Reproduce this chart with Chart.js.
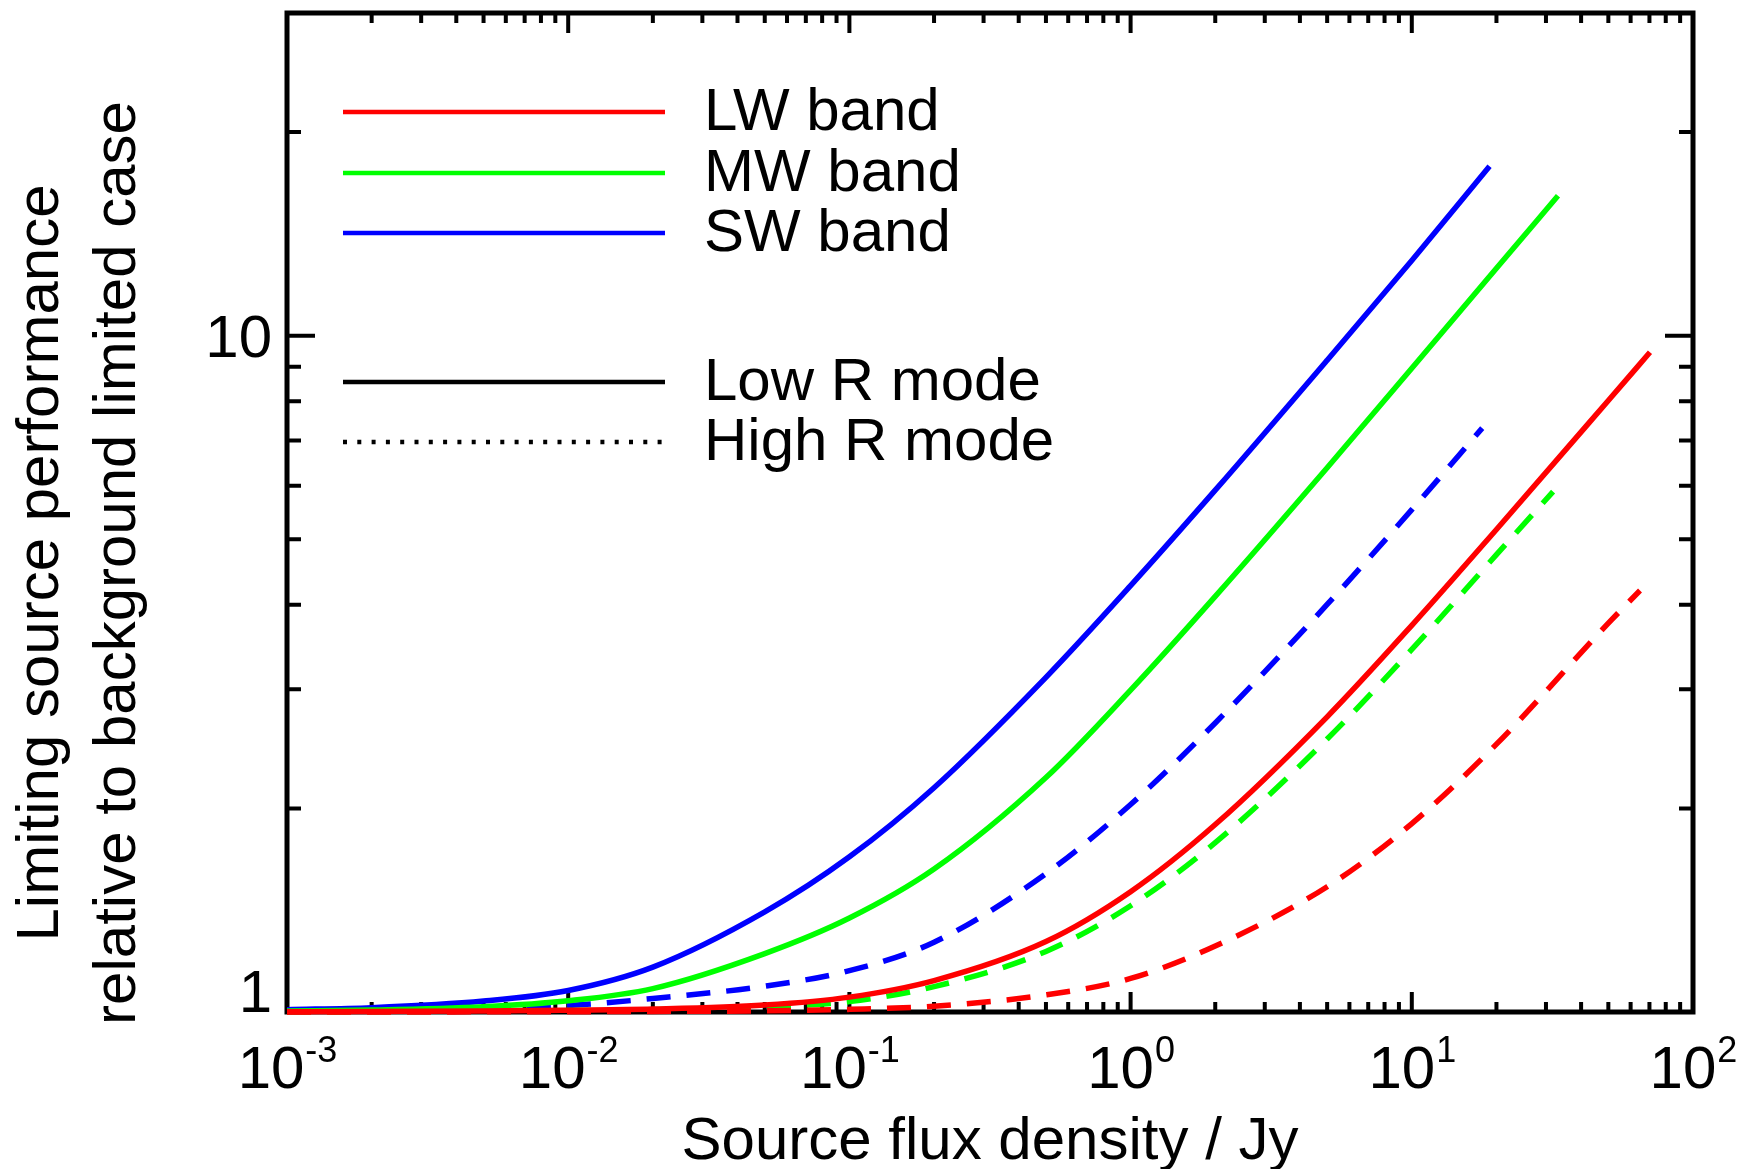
<!DOCTYPE html>
<html>
<head>
<meta charset="utf-8">
<title>Limiting source performance</title>
<script src="https://cdn.jsdelivr.net/npm/chart.js@4.4.1/dist/chart.umd.min.js"></script>
<style>
  html, body { margin: 0; padding: 0; background: #fff; }
  canvas { display: block; }
</style>
</head>
<body>
<canvas id="perfChart" width="1747" height="1169"></canvas>
<script>
const fluxCommon = [0.001, 0.002, 0.005, 0.01, 0.02, 0.05, 0.1, 0.2, 0.5, 1, 2, 5, 10];
const fluxLwLow = fluxCommon.concat([20, 50, 70.3]);
const fluxMwLow = fluxCommon.concat([20, 33.1]);
const fluxSwLow = fluxCommon.concat([18.9]);
const fluxLwHigh = fluxCommon.concat([20, 50, 64.8]);
const fluxMwHigh = fluxCommon.concat([20, 31.8]);
const fluxSwHigh = fluxCommon.concat([17.8]);

// performance relative to background limited case
const lwLow = [1.001, 1.002, 1.003, 1.006, 1.010, 1.024, 1.052, 1.113, 1.271, 1.506, 1.893, 2.732, 3.73, 5.17, 8.02, 9.45];
const mwLow = [1.003, 1.0065, 1.018, 1.039, 1.083, 1.220, 1.377, 1.627, 2.222, 2.992, 4.117, 6.38, 8.95, 12.58, 16.1];
const swLow = [1.008, 1.015, 1.038, 1.076, 1.165, 1.406, 1.696, 2.146, 3.125, 4.27, 5.91, 9.20, 12.92, 17.8];
const lwHigh = [1.000, 1.000, 1.0005, 1.001, 1.002, 1.004, 1.009, 1.020, 1.060, 1.121, 1.252, 1.532, 1.899, 2.489, 3.758, 4.20];
const mwHigh = [1.001, 1.0015, 1.003, 1.005, 1.008, 1.018, 1.036, 1.09, 1.229, 1.436, 1.780, 2.533, 3.436, 4.745, 5.88];
const swHigh = [1.002, 1.004, 1.010, 1.022, 1.047, 1.092, 1.151, 1.268, 1.602, 2.027, 2.675, 4.005, 5.53, 7.30];

// axes
const xMajor = [0.001, 0.01, 0.1, 1, 10, 100];
const xExponents = ['-3', '-2', '-1', '0', '1', '2'];
const yMajor = [1, 10];
const yLabels = ['1', '10'];
const yMax = 30;

const bandNames = ['LW band', 'MW band', 'SW band'];
const modeNames = ['Low R mode', 'High R mode'];
const xTitle = 'Source flux density / Jy';
const yTitle = ['Limiting source performance', 'relative to background limited case'];

const FONT = '"Liberation Sans", Arial, Helvetica, sans-serif';
const RED = '#ff0000', GREEN = '#00ff00', BLUE = '#0000ff';

function pts(xs, ys) {
    return ys.map((v, i) => ({ x: xs[i], y: v }));
}

function series(label, xs, ys, color, dashed) {
    return {
        label: label,
        data: pts(xs, ys),
        borderColor: color,
        backgroundColor: color,
        borderWidth: 5.5,
        borderDash: dashed ? [24, 16] : [],
        pointRadius: 0,
        fill: false,
        clip: 6,
        cubicInterpolationMode: 'monotone'
    };
}

// minor ticks, 2..9 in each decade
function minorTicks(lo, hi) {
    const out = [];
    for (let d = lo; d < hi; d *= 10) {
        for (let m = 2; m <= 9; m++) {
            const v = d * m;
            if (v < hi * 1.0001) out.push(v);
        }
    }
    return out;
}

const axesPlugin = {
    id: 'idlAxes',
    // frame and ticks go under the curves
    beforeDatasetsDraw(chart) {
        const ctx = chart.ctx;
        const a = chart.chartArea;
        const xs = chart.scales.x, ys = chart.scales.y;
        ctx.save();
        ctx.strokeStyle = '#000';
        ctx.lineCap = 'butt';
        ctx.lineWidth = 4;
        const xTick = (v, len) => {
            const px = xs.getPixelForValue(v);
            ctx.beginPath();
            ctx.moveTo(px, a.bottom); ctx.lineTo(px, a.bottom - len);
            ctx.moveTo(px, a.top); ctx.lineTo(px, a.top + len);
            ctx.stroke();
        };
        const yTick = (v, len) => {
            const py = ys.getPixelForValue(v);
            ctx.beginPath();
            ctx.moveTo(a.left, py); ctx.lineTo(a.left + len, py);
            ctx.moveTo(a.right, py); ctx.lineTo(a.right - len, py);
            ctx.stroke();
        };
        xMajor.forEach(v => xTick(v, 20));
        minorTicks(xMajor[0], xMajor[xMajor.length - 1]).forEach(v => xTick(v, 10));
        yMajor.forEach(v => yTick(v, 28));
        minorTicks(1, yMax).forEach(v => yTick(v, 14));

        ctx.lineWidth = 5;
        ctx.strokeRect(a.left, a.top, a.right - a.left, a.bottom - a.top);
        ctx.restore();
    },
    afterDatasetsDraw(chart) {
        const ctx = chart.ctx;
        const a = chart.chartArea;
        const xs = chart.scales.x, ys = chart.scales.y;
        ctx.save();
        ctx.fillStyle = '#000';

        // y tick labels
        ctx.font = '60px ' + FONT;
        ctx.textAlign = 'right';
        ctx.textBaseline = 'alphabetic';
        yMajor.forEach((v, i) => {
            const py = ys.getPixelForValue(v);
            ctx.fillText(yLabels[i], a.left - 15, Math.min(py + 21.5, a.bottom));
        });

        // x tick labels 10^n
        ctx.textAlign = 'left';
        xMajor.forEach((v, i) => {
            const px = xs.getPixelForValue(v);
            ctx.font = '60px ' + FONT;
            const wBase = ctx.measureText('10').width;
            ctx.font = '36px ' + FONT;
            const wExp = ctx.measureText(xExponents[i]).width;
            const x0 = px - (wBase + wExp) / 2;
            ctx.font = '60px ' + FONT;
            ctx.fillText('10', x0, a.bottom + 76);
            ctx.font = '36px ' + FONT;
            ctx.fillText(xExponents[i], x0 + wBase + 1, a.bottom + 50);
        });

        // axis titles
        ctx.font = '60px ' + FONT;
        ctx.textAlign = 'center';
        ctx.fillText(xTitle, (a.left + a.right) / 2, a.bottom + 147);
        ctx.save();
        ctx.translate(0, 563);
        ctx.rotate(-Math.PI / 2);
        ctx.fillText(yTitle[0], 0, 58);
        ctx.fillText(yTitle[1], 0, 135);
        ctx.restore();

        // legend
        const lx0 = 343, lx1 = 665, tx = 704;
        const rows = [
            { y: 112, color: RED, dash: [], text: bandNames[0] },
            { y: 173, color: GREEN, dash: [], text: bandNames[1] },
            { y: 233, color: BLUE, dash: [], text: bandNames[2] },
            { y: 382, color: '#000', dash: [], text: modeNames[0] },
            { y: 442, color: '#000', dash: [4, 10.3], text: modeNames[1] }
        ];
        ctx.lineWidth = 4.5;
        ctx.textAlign = 'left';
        rows.forEach(r => {
            ctx.strokeStyle = r.color;
            ctx.setLineDash(r.dash);
            ctx.beginPath();
            ctx.moveTo(lx0, r.y);
            ctx.lineTo(lx1, r.y);
            ctx.stroke();
            ctx.fillText(r.text, tx, r.y + 18);
        });
        ctx.setLineDash([]);
        ctx.restore();
    }
};

const ctx1 = document.getElementById('perfChart').getContext('2d');
new Chart(ctx1, {
    type: 'line',
    data: {
        datasets: [
            series('LW band, Low R', fluxLwLow, lwLow, RED, false),
            series('LW band, High R', fluxLwHigh, lwHigh, RED, true),
            series('MW band, Low R', fluxMwLow, mwLow, GREEN, false),
            series('MW band, High R', fluxMwHigh, mwHigh, GREEN, true),
            series('SW band, Low R', fluxSwLow, swLow, BLUE, false),
            series('SW band, High R', fluxSwHigh, swHigh, BLUE, true)
        ]
    },
    options: {
        responsive: false,
        animation: false,
        devicePixelRatio: 1,
        layout: { padding: { left: 287, top: 13, right: 54, bottom: 157 } },
        plugins: { legend: { display: false }, tooltip: { enabled: false } },
        scales: {
            x: { type: 'logarithmic', min: 0.001, max: 100, display: false },
            y: { type: 'logarithmic', min: 1, max: yMax, display: false }
        }
    },
    plugins: [axesPlugin]
});
</script>
</body>
</html>
